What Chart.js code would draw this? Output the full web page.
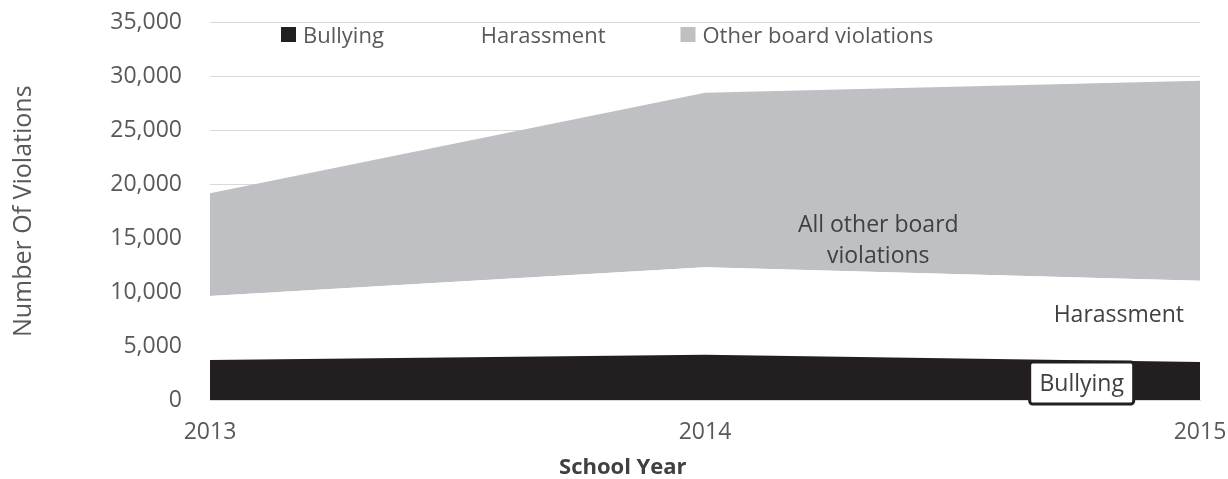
<!DOCTYPE html>
<html>
<head>
<meta charset="utf-8">
<title>Violations by School Year</title>
<script src="https://cdn.jsdelivr.net/npm/chart.js@4/dist/chart.umd.min.js"></script>
<style>
  html, body { margin: 0; padding: 0; background: #ffffff; }
  #wrap { position: relative; width: 1228px; height: 479px; }
</style>
</head>
<body>
<div id="wrap"><canvas id="chart" width="1228" height="479"></canvas></div>
<script>
// School years on the x axis
const years = ['2013', '2014', '2015'];

// Violations per year (stacked)
const bullying = [3710, 4200, 3520];
const harassment = [5930, 8100, 7540];
const otherViolations = [9520, 16190, 18540];

// Series names
const seriesNames = ['Bullying', 'Harassment', 'Other board violations'];

// Y axis range
const yMin = 0;
const yMax = 35000;
const yStep = 5000;

const FONT = '"Open Sans", "Noto Sans", sans-serif';
const colors = ['#231f20', '#ffffff', '#bfc0c4'];

// In-plot labels, anchored in data coordinates (x as category index)
const areaLabels = [
  { lines: ['All other board', 'violations'], x: 1.35, y: 14750 },
  { lines: ['Harassment'], x: 1.836, y: 7880 }
];
const boxedLabel = { text: 'Bullying', x: 1.761, y: 1576 };
const xTitle = { text: 'School Year', at: 0.417 };

// Legend drawn across the top of the plot area
const legendPlugin = {
  id: 'topLegend',
  afterDatasetsDraw(chart) {
    const ctx = chart.ctx;
    ctx.save();
    ctx.font = '22px ' + FONT;
    ctx.textBaseline = 'alphabetic';
    ctx.textAlign = 'left';
    let x = 281;
    const boxTop = 27, box = 15, baseline = 42.5;
    chart.data.datasets.forEach((ds) => {
      ctx.fillStyle = ds.backgroundColor;
      ctx.fillRect(x, boxTop, box, box);
      x += box + 7;
      ctx.fillStyle = '#595959';
      ctx.fillText(ds.label, x, baseline);
      x += ctx.measureText(ds.label).width + 75;
    });
    ctx.restore();
  }
};

// Category labels placed inside the areas, plus the x axis title
const labelPlugin = {
  id: 'areaLabels',
  afterDraw(chart) {
    const ctx = chart.ctx;
    const xs = chart.scales.x, ys = chart.scales.y;
    const area = chart.chartArea;
    ctx.save();
    ctx.font = '23px ' + FONT;
    ctx.fillStyle = '#404040';
    ctx.textAlign = 'center';
    ctx.textBaseline = 'middle';
    areaLabels.forEach(l => {
      const px = xs.getPixelForValue(l.x);
      const py = ys.getPixelForValue(l.y);
      const lh = 30.5;
      const y0 = py - (l.lines.length - 1) * lh / 2;
      l.lines.forEach((t, k) => ctx.fillText(t, px, y0 + k * lh));
    });

    // Boxed label on the bullying band
    const bx = xs.getPixelForValue(boxedLabel.x);
    const by = ys.getPixelForValue(boxedLabel.y);
    const w = 104, h = 42;
    ctx.beginPath();
    if (ctx.roundRect) ctx.roundRect(bx - w / 2, by - h / 2, w, h, 3);
    else ctx.rect(bx - w / 2, by - h / 2, w, h);
    ctx.fillStyle = '#ffffff';
    ctx.fill();
    ctx.lineWidth = 3;
    ctx.strokeStyle = '#231f20';
    ctx.stroke();
    ctx.fillStyle = '#404040';
    ctx.fillText(boxedLabel.text, bx, by + 1);

    // X axis title
    ctx.font = 'bold 22px ' + FONT;
    ctx.fillStyle = '#404040';
    ctx.fillText(xTitle.text, area.left + xTitle.at * (area.right - area.left), 468);
    ctx.restore();
  }
};

const seriesData = [bullying, harassment, otherViolations];

new Chart(document.getElementById('chart'), {
  type: 'line',
  data: {
    labels: years,
    datasets: seriesNames.map((name, i) => ({
      label: name,
      data: seriesData[i],
      backgroundColor: colors[i],
      borderColor: 'rgba(0,0,0,0)',
      borderWidth: 0,
      pointRadius: 0,
      pointHoverRadius: 0,
      tension: 0,
      fill: i === 0 ? 'origin' : '-1'
    }))
  },
  options: {
    responsive: false,
    animation: false,
    events: [],
    layout: { padding: { top: 22.5, right: 28, left: 0, bottom: 0 } },
    plugins: {
      legend: { display: false },
      tooltip: { enabled: false },
      title: { display: false }
    },
    scales: {
      x: {
        type: 'category',
        offset: false,
        grid: { display: false, drawTicks: false },
        border: { display: true, color: '#d9d9d9', width: 1 },
        ticks: {
          color: '#595959',
          font: { family: FONT, size: 23 },
          padding: 19,
          maxRotation: 0
        },
        title: { display: false },
        afterFit(scale) {
          scale.height = 79;
          scale.paddingLeft = 0;
          scale.paddingRight = 0;
        }
      },
      y: {
        stacked: true,
        min: yMin,
        max: yMax,
        grid: { color: '#d9d9d9', lineWidth: 1, drawTicks: false },
        border: { display: false },
        ticks: {
          stepSize: yStep,
          color: '#595959',
          font: { family: FONT, size: 23 },
          padding: 28
        },
        title: {
          display: true,
          text: 'Number Of Violations',
          color: '#595959',
          font: { family: FONT, size: 25, lineHeight: 1 },
          padding: { top: 11, bottom: 0 }
        },
        afterFit(scale) {
          scale.width = 210;
          scale.paddingTop = 0;
          scale.paddingBottom = 0;
        }
      }
    }
  },
  plugins: [legendPlugin, labelPlugin]
});
</script>
</body>
</html>
